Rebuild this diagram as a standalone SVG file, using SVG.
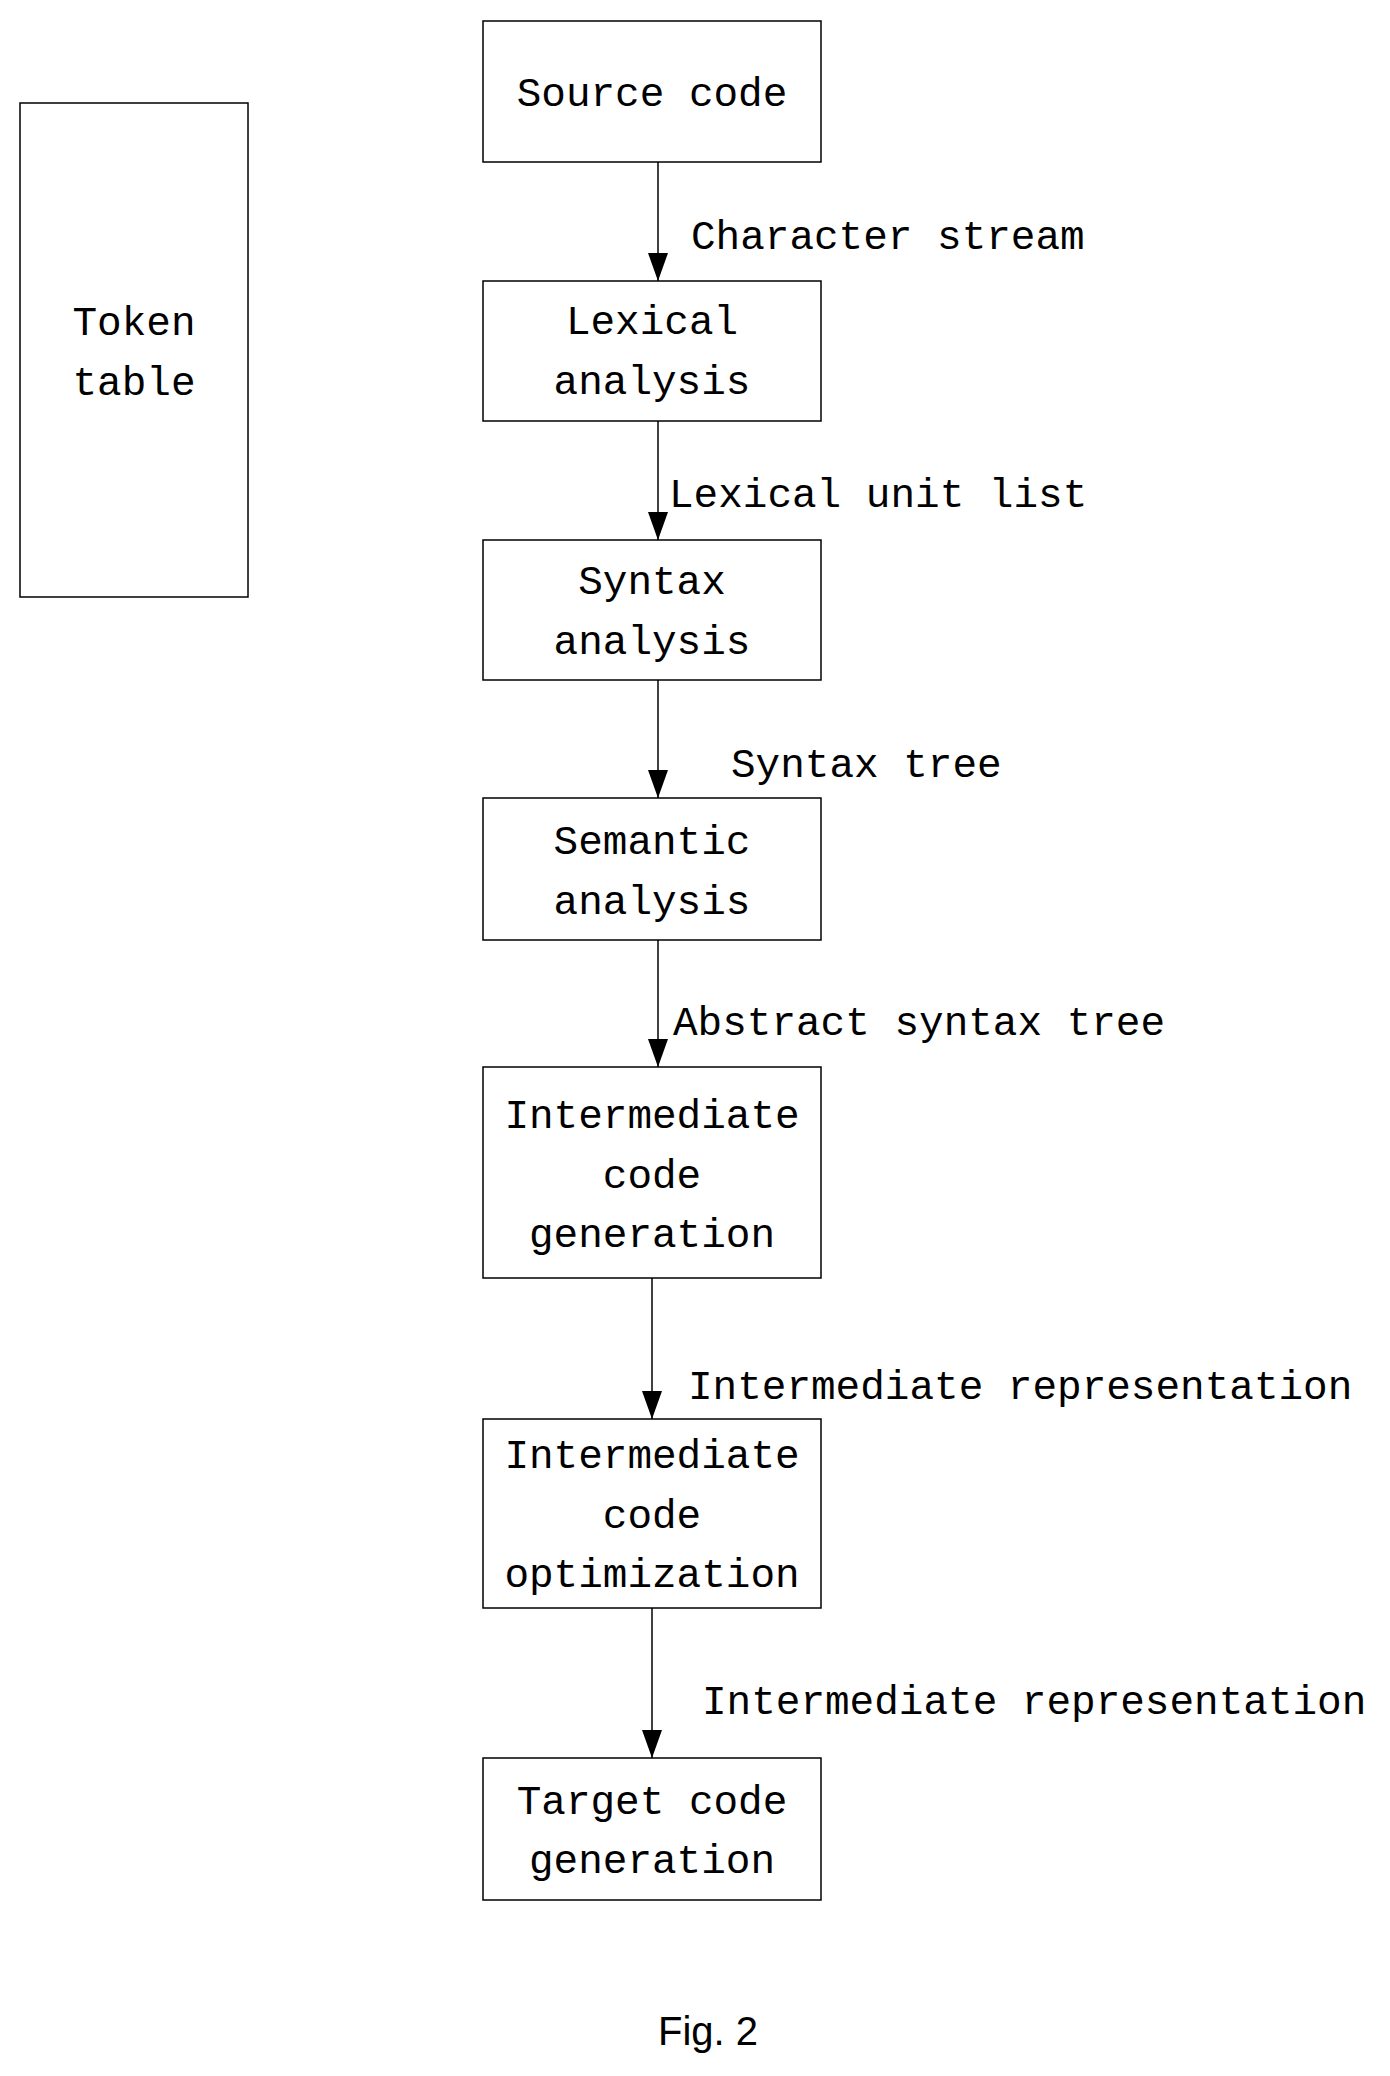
<svg xmlns="http://www.w3.org/2000/svg" width="1390" height="2076" viewBox="0 0 1390 2076">
<style>
.b{fill:#fff;stroke:#000;stroke-width:1.5}
.t{font-family:"Liberation Mono",monospace;font-size:41px;fill:#000;text-anchor:middle}
.l{font-family:"Liberation Mono",monospace;font-size:41px;fill:#000}
.c{stroke:#000;stroke-width:1.5;fill:none;marker-end:url(#a)}
</style>
<defs><marker id="a" markerUnits="userSpaceOnUse" markerWidth="28" markerHeight="20" refX="28" refY="10" orient="auto" viewBox="0 0 28 20"><path d="M0,0 L28,10 L0,20 Z" fill="#000"/></marker></defs>
<rect width="1390" height="2076" fill="#fff"/>
<g id="token"><rect class="b" x="20" y="103" width="228" height="494"/><text class="t" x="134" y="335">Token</text><text class="t" x="134" y="395">table</text></g>
<g id="source"><rect class="b" x="483" y="21" width="338" height="141"/><text class="t" x="652" y="106">Source code</text></g>
<g id="lexical"><rect class="b" x="483" y="281" width="338" height="140"/><text class="t" x="652" y="334">Lexical</text><text class="t" x="652" y="394">analysis</text></g>
<g id="syntax"><rect class="b" x="483" y="540" width="338" height="140"/><text class="t" x="652" y="594">Syntax</text><text class="t" x="652" y="654">analysis</text></g>
<g id="semantic"><rect class="b" x="483" y="798" width="338" height="142"/><text class="t" x="652" y="854">Semantic</text><text class="t" x="652" y="914">analysis</text></g>
<g id="icg"><rect class="b" x="483" y="1067" width="338" height="211"/><text class="t" x="652" y="1128">Intermediate</text><text class="t" x="652" y="1188">code</text><text class="t" x="652" y="1247">generation</text></g>
<g id="ico"><rect class="b" x="483" y="1419" width="338" height="189"/><text class="t" x="652" y="1468">Intermediate</text><text class="t" x="652" y="1528">code</text><text class="t" x="652" y="1587">optimization</text></g>
<g id="target"><rect class="b" x="483" y="1758" width="338" height="142"/><text class="t" x="652" y="1814">Target code</text><text class="t" x="652" y="1873">generation</text></g>
<g id="connectors">
<path class="c" d="M658,162 V281"/>
<path class="c" d="M658,421 V540"/>
<path class="c" d="M658,680 V798"/>
<path class="c" d="M658,940 V1067"/>
<path class="c" d="M652,1278 V1419"/>
<path class="c" d="M652,1608 V1758"/>
<text class="l" x="691" y="249">Character stream</text>
<text class="l" x="669" y="507">Lexical unit list</text>
<text class="l" x="731" y="777">Syntax tree</text>
<text class="l" x="673" y="1035">Abstract syntax tree</text>
<text class="l" x="688" y="1399">Intermediate representation</text>
<text class="l" x="702" y="1714">Intermediate representation</text>
</g>
<text x="708" y="2045" font-family="Liberation Sans,Arial,sans-serif" font-size="40" text-anchor="middle">Fig. 2</text>
</svg>
